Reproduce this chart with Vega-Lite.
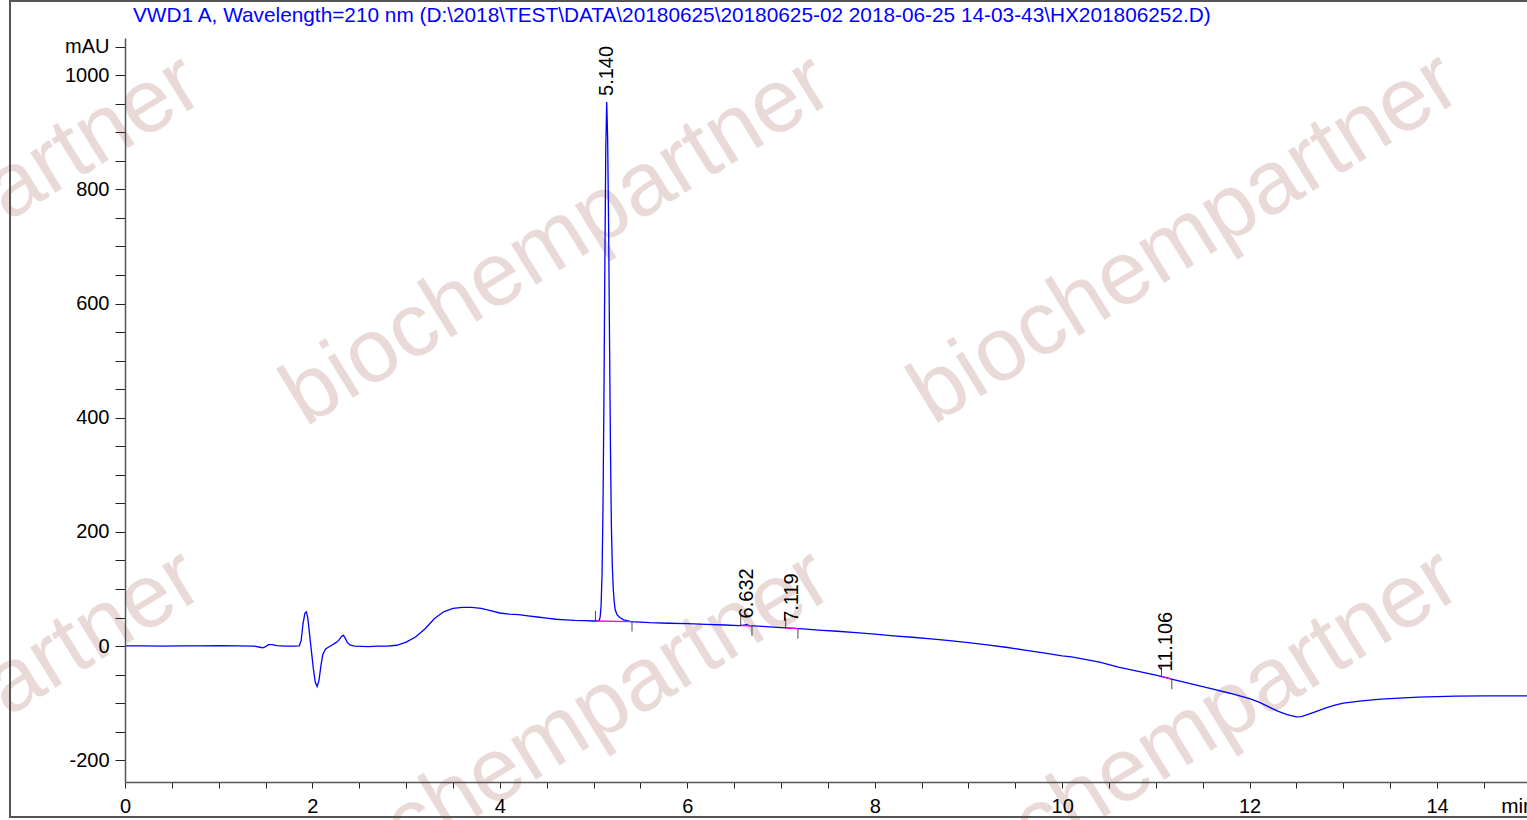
{
  "$schema": "https://vega.github.io/schema/vega-lite/v6.json",
  "width": 1402,
  "height": 744,
  "autosize": {"type": "none"},
  "padding": {"left": 125, "top": 38, "right": 0, "bottom": 38},
  "background": "white",
  "config": {"view": {"stroke": null}, "font": "Liberation Sans"},
  "datasets": {
    "curve": [
      {"t": 0.0, "v": 0.5}, {"t": 0.2, "v": 0.5}, {"t": 0.4, "v": 0}, {"t": 0.6, "v": 0.5}, {"t": 0.8, "v": 0.5},
      {"t": 1.0, "v": 1}, {"t": 1.2, "v": 0.5}, {"t": 1.38, "v": 0}, {"t": 1.44, "v": -2}, {"t": 1.47, "v": -3},
      {"t": 1.5, "v": -1}, {"t": 1.53, "v": 2.5}, {"t": 1.57, "v": 2.5}, {"t": 1.62, "v": 1}, {"t": 1.7, "v": 0},
      {"t": 1.8, "v": 0}, {"t": 1.86, "v": 0.5}, {"t": 1.88, "v": 10}, {"t": 1.9, "v": 40}, {"t": 1.92, "v": 58},
      {"t": 1.935, "v": 60}, {"t": 1.95, "v": 50}, {"t": 1.97, "v": 20}, {"t": 1.99, "v": -10}, {"t": 2.01, "v": -40},
      {"t": 2.03, "v": -63}, {"t": 2.05, "v": -71}, {"t": 2.07, "v": -60}, {"t": 2.09, "v": -35}, {"t": 2.11, "v": -15},
      {"t": 2.14, "v": -5}, {"t": 2.17, "v": -2}, {"t": 2.21, "v": 2}, {"t": 2.25, "v": 6}, {"t": 2.28, "v": 10},
      {"t": 2.31, "v": 17}, {"t": 2.33, "v": 19}, {"t": 2.35, "v": 14}, {"t": 2.37, "v": 7}, {"t": 2.4, "v": 2},
      {"t": 2.45, "v": 0}, {"t": 2.6, "v": -1}, {"t": 2.7, "v": 0}, {"t": 2.8, "v": 0}, {"t": 2.9, "v": 1.5},
      {"t": 3.0, "v": 7}, {"t": 3.1, "v": 16}, {"t": 3.2, "v": 30}, {"t": 3.3, "v": 48}, {"t": 3.4, "v": 60},
      {"t": 3.5, "v": 66}, {"t": 3.6, "v": 68}, {"t": 3.7, "v": 68}, {"t": 3.8, "v": 66}, {"t": 3.9, "v": 62},
      {"t": 4.0, "v": 58}, {"t": 4.1, "v": 56}, {"t": 4.2, "v": 55}, {"t": 4.3, "v": 53}, {"t": 4.4, "v": 51},
      {"t": 4.5, "v": 49}, {"t": 4.6, "v": 47}, {"t": 4.7, "v": 46}, {"t": 4.8, "v": 45}, {"t": 4.9, "v": 44.5},
      {"t": 5.0, "v": 44}, {"t": 5.03, "v": 44}, {"t": 5.06, "v": 45}, {"t": 5.07, "v": 51}, {"t": 5.08, "v": 71},
      {"t": 5.09, "v": 124}, {"t": 5.1, "v": 236}, {"t": 5.11, "v": 423}, {"t": 5.12, "v": 660}, {"t": 5.13, "v": 869},
      {"t": 5.14, "v": 953}, {"t": 5.15, "v": 890}, {"t": 5.16, "v": 740}, {"t": 5.17, "v": 540}, {"t": 5.18, "v": 350},
      {"t": 5.19, "v": 210}, {"t": 5.2, "v": 140}, {"t": 5.21, "v": 100}, {"t": 5.22, "v": 78}, {"t": 5.23, "v": 64},
      {"t": 5.25, "v": 55}, {"t": 5.28, "v": 50}, {"t": 5.32, "v": 46}, {"t": 5.4, "v": 43}, {"t": 5.6, "v": 41},
      {"t": 5.8, "v": 40}, {"t": 6.0, "v": 39.5}, {"t": 6.2, "v": 38}, {"t": 6.4, "v": 37}, {"t": 6.55, "v": 36},
      {"t": 6.6, "v": 36.5}, {"t": 6.63, "v": 38}, {"t": 6.66, "v": 36}, {"t": 6.8, "v": 34.5}, {"t": 7.0, "v": 32.5},
      {"t": 7.2, "v": 30.5}, {"t": 7.4, "v": 28}, {"t": 7.6, "v": 26}, {"t": 7.8, "v": 23.5}, {"t": 8.0, "v": 21},
      {"t": 8.2, "v": 18}, {"t": 8.4, "v": 15.5}, {"t": 8.6, "v": 12.5}, {"t": 8.8, "v": 9.5}, {"t": 9.0, "v": 6},
      {"t": 9.2, "v": 2}, {"t": 9.4, "v": -2}, {"t": 9.6, "v": -7}, {"t": 9.8, "v": -12}, {"t": 10.0, "v": -17},
      {"t": 10.1, "v": -19}, {"t": 10.2, "v": -22}, {"t": 10.4, "v": -28}, {"t": 10.6, "v": -37}, {"t": 10.8, "v": -44},
      {"t": 11.0, "v": -51}, {"t": 11.2, "v": -59}, {"t": 11.4, "v": -67}, {"t": 11.6, "v": -75}, {"t": 11.8, "v": -83},
      {"t": 12.0, "v": -92}, {"t": 12.1, "v": -98}, {"t": 12.2, "v": -106}, {"t": 12.3, "v": -114}, {"t": 12.4, "v": -120},
      {"t": 12.5, "v": -124}, {"t": 12.55, "v": -123.5}, {"t": 12.6, "v": -121}, {"t": 12.7, "v": -115}, {"t": 12.8, "v": -109},
      {"t": 12.9, "v": -104}, {"t": 13.0, "v": -100}, {"t": 13.2, "v": -96}, {"t": 13.4, "v": -93}, {"t": 13.6, "v": -91},
      {"t": 13.8, "v": -89.5}, {"t": 14.0, "v": -88.5}, {"t": 14.2, "v": -87.5}, {"t": 14.5, "v": -87}, {"t": 14.8, "v": -87},
      {"t": 14.97, "v": -87}
    ],
    "peaks": [
      {"rt": 5.14, "label": "5.140", "apex": 953, "start": 5.02, "startV": 44, "end": 5.41, "endV": 43},
      {"rt": 6.632, "label": "6.632", "apex": 38, "start": 6.57, "startV": 36, "end": 6.69, "endV": 35.5},
      {"rt": 7.119, "label": "7.119", "apex": 32, "start": 7.05, "startV": 32, "end": 7.18, "endV": 30.5},
      {"rt": 11.106, "label": "11.106", "apex": -55, "start": 11.06, "startV": -53, "end": 11.17, "endV": -58}
    ],
    "marks": [
      {"wx": -2.11, "wy": 711, "text": "biochempartner"},
      {"wx": 4.61, "wy": 711, "text": "biochempartner"},
      {"wx": 11.31, "wy": 714, "text": "biochempartner"},
      {"wx": -2.11, "wy": -156, "text": "biochempartner"},
      {"wx": 4.61, "wy": -156, "text": "biochempartner"},
      {"wx": 11.31, "wy": -156, "text": "biochempartner"}
    ],
    "header": [
      {"hx": 0.0854, "hy": 1092.8, "text": "VWD1 A, Wavelength=210 nm (D:\\2018\\TEST\\DATA\\20180625\\20180625-02 2018-06-25 14-03-43\\HX201806252.D)", "kind": "title"},
      {"hx": 14.684, "hy": -292.5, "text": "min", "kind": "unit"}
    ]
  },
  "layer": [
    {
      "data": {"name": "marks"},
      "mark": {"type": "text", "angle": 328.3, "fontSize": 90, "font": "Liberation Sans", "color": "#e9dad8", "align": "center", "baseline": "middle"},
      "encoding": {
        "x": {"field": "wx", "type": "quantitative"},
        "y": {"field": "wy", "type": "quantitative"},
        "text": {"field": "text"}
      }
    },
    {
      "data": {"name": "curve"},
      "mark": {"type": "line", "color": "#0000ff", "strokeWidth": 1.3},
      "encoding": {
        "x": {
          "field": "t", "type": "quantitative",
          "scale": {"domain": [0, 14.96], "nice": false, "zero": false},
          "axis": {
            "values": [0, 0.5, 1, 1.5, 2, 2.5, 3, 3.5, 4, 4.5, 5, 5.5, 6, 6.5, 7, 7.5, 8, 8.5, 9, 9.5, 10, 10.5, 11, 11.5, 12, 12.5, 13, 13.5, 14, 14.5],
            "tickCount": 200,
            "labelExpr": "datum.value % 2 == 0 ? '' + datum.value : ''",
            "grid": false, "zindex": 1,
            "domainColor": "#555555", "domainWidth": 1.5,
            "tickColor": "#222222", "tickSize": 6, "tickWidth": 1,
            "labelFont": "Liberation Sans", "labelFontSize": 20, "labelColor": "#000000", "labelPadding": 8,
            "labelOverlap": false, "labelFlush": false,
            "title": null
          }
        },
        "y": {
          "field": "v", "type": "quantitative",
          "scale": {"domain": [-238, 1065], "nice": false, "zero": false},
          "axis": {
            "values": [-200, -150, -100, -50, 0, 50, 100, 150, 200, 250, 300, 350, 400, 450, 500, 550, 600, 650, 700, 750, 800, 850, 900, 950, 1000, 1050],
            "tickCount": 200,
            "labelExpr": "datum.value == 1050 ? 'mAU' : (datum.value % 200 == 0 ? '' + datum.value : '')",
            "grid": false, "zindex": 1,
            "domainColor": "#555555", "domainWidth": 1.5,
            "tickColor": "#222222", "tickSize": 10, "tickWidth": 1,
            "labelFont": "Liberation Sans", "labelFontSize": 20, "labelColor": "#000000", "labelPadding": 6,
            "labelOverlap": false, "labelFlush": false,
            "title": null
          }
        }
      }
    },
    {
      "data": {"values": [{}]},
      "mark": {"type": "rect", "fillOpacity": 0, "stroke": "#555555", "strokeWidth": 2},
      "encoding": {
        "x": {"datum": -1.227, "type": "quantitative"},
        "x2": {"datum": 16.5},
        "y": {"datum": 1129.6, "type": "quantitative"},
        "y2": {"datum": -299.5}
      }
    },
    {
      "data": {"name": "header"},
      "mark": {"type": "text", "align": "left", "baseline": "alphabetic", "fontSize": 20.8, "font": "Liberation Sans"},
      "encoding": {
        "x": {"field": "hx", "type": "quantitative"},
        "y": {"field": "hy", "type": "quantitative"},
        "text": {"field": "text"},
        "color": {"field": "kind", "type": "nominal", "scale": {"domain": ["title", "unit"], "range": ["#0000ff", "#000000"]}, "legend": null}
      }
    },
    {
      "data": {"name": "peaks"},
      "mark": {"type": "rule", "color": "#ff00ff", "strokeWidth": 1.3},
      "encoding": {
        "x": {"field": "start", "type": "quantitative"},
        "x2": {"field": "end"},
        "y": {"field": "startV", "type": "quantitative"},
        "y2": {"field": "endV"}
      }
    },
    {
      "data": {"name": "peaks"},
      "mark": {"type": "tick", "orient": "vertical", "size": 10, "thickness": 1, "color": "#000000", "yOffset": -5},
      "encoding": {
        "x": {"field": "start", "type": "quantitative"},
        "y": {"field": "startV", "type": "quantitative"}
      }
    },
    {
      "data": {"name": "peaks"},
      "mark": {"type": "tick", "orient": "vertical", "size": 10, "thickness": 1, "color": "#000000", "yOffset": 5},
      "encoding": {
        "x": {"field": "end", "type": "quantitative"},
        "y": {"field": "endV", "type": "quantitative"}
      }
    },
    {
      "data": {"name": "peaks"},
      "mark": {"type": "text", "angle": 270, "align": "left", "baseline": "middle", "dx": 6, "fontSize": 20, "font": "Liberation Sans", "color": "#000000"},
      "encoding": {
        "x": {"field": "rt", "type": "quantitative"},
        "y": {"field": "apex", "type": "quantitative"},
        "text": {"field": "label"}
      }
    }
  ]
}
